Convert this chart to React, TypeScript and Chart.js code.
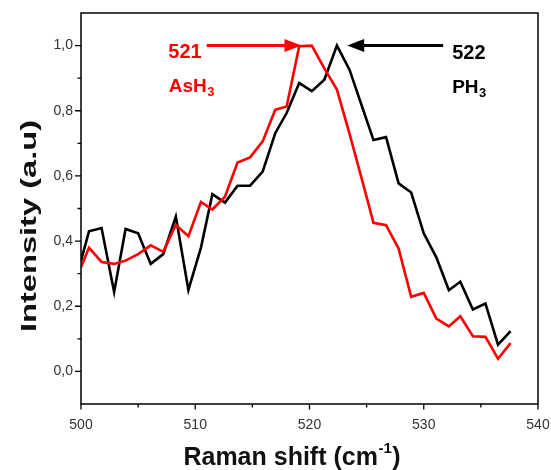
import React, { useEffect, useRef } from 'react';
import { Chart, registerables } from 'chart.js';

Chart.register(...registerables);

// Raman shift grid (cm-1)
const ramanShift = [
  500.0, 500.7, 501.8, 502.9, 503.9, 505.0, 506.1, 507.2, 508.3, 509.4,
  510.5, 511.5, 512.6, 513.7, 514.8, 515.9, 517.0, 518.0, 519.1, 520.2,
  521.3, 522.4, 523.5, 524.6, 525.6, 526.7, 527.8, 528.9, 530.0, 531.1,
  532.2, 533.2, 534.3, 535.4, 536.5, 537.6,
];

// PH3 (black)
const ph3Intensity = [
  0.34, 0.43, 0.44, 0.244, 0.437, 0.424, 0.33, 0.36, 0.475, 0.25,
  0.38, 0.544, 0.518, 0.57, 0.57, 0.613, 0.731, 0.793, 0.885, 0.86,
  0.895, 1.0, 0.926, 0.813, 0.71, 0.719, 0.577, 0.549, 0.424, 0.35,
  0.249, 0.275, 0.19, 0.208, 0.082, 0.124,
];

// AsH3 (red)
const ash3Intensity = [
  0.32, 0.38, 0.336, 0.33, 0.34, 0.36, 0.387, 0.367, 0.45, 0.415,
  0.52, 0.497, 0.536, 0.641, 0.657, 0.706, 0.803, 0.813, 0.998, 1.0,
  0.93, 0.865, 0.73, 0.588, 0.456, 0.449, 0.377, 0.229, 0.241, 0.162,
  0.138, 0.169, 0.108, 0.106, 0.039, 0.087,
];

const xMajorTicks = [500, 510, 520, 530, 540];
const xMinorTicks = [505, 515, 525, 535];
const yMajorTicks = [0, 0.2, 0.4, 0.6, 0.8, 1.0];
const yMinorTicks = [0.1, 0.3, 0.5, 0.7, 0.9];

const peakLabels = ['521', '522'];
const speciesNames = ['AsH', 'PH'];
const speciesSub = '3';
// arrows: [tail x, tip x, y]
const ash3Arrow = [511.0, 519.3, 1.0];
const ph3Arrow = [531.7, 523.3, 1.0];

const yTitle = 'Intensity (a.u)';
const xTitleMain = 'Raman shift (cm';
const xTitleSup = '-1';
const xTitleEnd = ')';

const FONT = '"Liberation Sans", Arial, sans-serif';

function drawArrow(ctx: CanvasRenderingContext2D, x1: number, x2: number, y: number, color: string) {
  const dir = x2 > x1 ? 1 : -1;
  const headLen = 17;
  const headHalf = 6.5;
  ctx.save();
  ctx.strokeStyle = color;
  ctx.fillStyle = color;
  ctx.lineWidth = 3;
  ctx.beginPath();
  ctx.moveTo(x1, y);
  ctx.lineTo(x2 - dir * headLen * 0.8, y);
  ctx.stroke();
  ctx.beginPath();
  ctx.moveTo(x2, y);
  ctx.lineTo(x2 - dir * headLen, y - headHalf);
  ctx.lineTo(x2 - dir * headLen, y + headHalf);
  ctx.closePath();
  ctx.fill();
  ctx.restore();
}

function drawSpecies(ctx: CanvasRenderingContext2D, name: string, x: number, y: number, color: string) {
  ctx.save();
  ctx.fillStyle = color;
  ctx.textAlign = 'left';
  ctx.textBaseline = 'alphabetic';
  ctx.font = `bold 19px ${FONT}`;
  ctx.fillText(name, x, y);
  const w = ctx.measureText(name).width;
  ctx.font = `bold 13px ${FONT}`;
  ctx.fillText(speciesSub, x + w + 0.5, y + 4);
  ctx.restore();
}

const decorPlugin = {
  id: 'decor',
  afterDraw(chart: any) {
    const { ctx, chartArea } = chart;
    const xs = chart.scales.x;
    const ys = chart.scales.y;
    const { left, right, top, bottom } = chartArea;
    ctx.save();
    // frame
    ctx.strokeStyle = '#000';
    ctx.lineWidth = 1.5;
    ctx.strokeRect(left, top, right - left, bottom - top);
    // ticks
    ctx.lineWidth = 1.3;
    ctx.beginPath();
    yMajorTicks.forEach((v) => {
      const p = ys.getPixelForValue(v);
      ctx.moveTo(left - 6, p);
      ctx.lineTo(left, p);
    });
    yMinorTicks.forEach((v) => {
      const p = ys.getPixelForValue(v);
      ctx.moveTo(left - 3.5, p);
      ctx.lineTo(left, p);
    });
    xMajorTicks.forEach((v) => {
      const p = xs.getPixelForValue(v);
      ctx.moveTo(p, bottom);
      ctx.lineTo(p, bottom + 5.5);
    });
    xMinorTicks.forEach((v) => {
      const p = xs.getPixelForValue(v);
      ctx.moveTo(p, bottom);
      ctx.lineTo(p, bottom + 3.5);
    });
    ctx.stroke();

    // y title
    ctx.save();
    ctx.fillStyle = '#111';
    ctx.font = `bold 22px ${FONT}`;
    ctx.translate(36, 226);
    ctx.rotate(-Math.PI / 2);
    const tw = ctx.measureText(yTitle).width;
    ctx.scale(212 / tw, 1);
    ctx.textAlign = 'center';
    ctx.textBaseline = 'alphabetic';
    ctx.fillText(yTitle, 0, 0);
    ctx.restore();

    // x title with superscript
    ctx.save();
    ctx.fillStyle = '#111';
    ctx.textBaseline = 'alphabetic';
    ctx.textAlign = 'left';
    ctx.font = `bold 25px ${FONT}`;
    const w1 = ctx.measureText(xTitleMain).width;
    const w3 = ctx.measureText(xTitleEnd).width;
    ctx.font = `bold 15px ${FONT}`;
    const w2 = ctx.measureText(xTitleSup).width;
    const total = w1 + w2 + w3 + 1;
    const startX = 292 - total / 2;
    const baseY = 465;
    ctx.font = `bold 25px ${FONT}`;
    ctx.fillText(xTitleMain, startX, baseY);
    ctx.font = `bold 15px ${FONT}`;
    ctx.fillText(xTitleSup, startX + w1 + 0.5, baseY - 12);
    ctx.font = `bold 25px ${FONT}`;
    ctx.fillText(xTitleEnd, startX + w1 + w2 + 1, baseY);
    ctx.restore();

    // annotations
    const red = '#ff0000';
    const ay = ys.getPixelForValue(ash3Arrow[2]);
    drawArrow(ctx, xs.getPixelForValue(ash3Arrow[0]), xs.getPixelForValue(ash3Arrow[1]), ay, red);
    const by = ys.getPixelForValue(ph3Arrow[2]);
    drawArrow(ctx, xs.getPixelForValue(ph3Arrow[0]), xs.getPixelForValue(ph3Arrow[1]), by, '#000');

    ctx.font = `bold 20px ${FONT}`;
    ctx.textBaseline = 'alphabetic';
    ctx.fillStyle = red;
    ctx.textAlign = 'right';
    ctx.fillText(peakLabels[0], xs.getPixelForValue(ash3Arrow[0]) - 5, ay + 12);
    ctx.fillStyle = '#000';
    ctx.textAlign = 'left';
    ctx.fillText(peakLabels[1], xs.getPixelForValue(ph3Arrow[0]) + 9, by + 13);

    drawSpecies(ctx, speciesNames[0], xs.getPixelForValue(ash3Arrow[0]) - 38, ay + 46, red);
    drawSpecies(ctx, speciesNames[1], xs.getPixelForValue(ph3Arrow[0]) + 9, by + 47, '#000');
    ctx.restore();
  },
};

export default function App() {
  const ref = useRef<HTMLCanvasElement | null>(null);
  useEffect(() => {
    if (!ref.current) return;
    const tickFont = { family: FONT, size: 14 };
    const chart = new Chart(ref.current, {
      type: 'line',
      data: {
        datasets: [
          {
            label: 'AsH3',
            data: ramanShift.map((x, i) => ({ x, y: ash3Intensity[i] })),
            borderColor: '#ff0000',
            borderWidth: 2.6,
            pointRadius: 0,
            tension: 0,
            fill: false,
          },
          {
            label: 'PH3',
            data: ramanShift.map((x, i) => ({ x, y: ph3Intensity[i] })),
            borderColor: '#000000',
            borderWidth: 2.6,
            pointRadius: 0,
            tension: 0,
            fill: false,
          },
        ],
      },
      options: {
        animation: false,
        responsive: false,
        maintainAspectRatio: false,
        devicePixelRatio: 1,
        layout: { padding: { top: 13, right: 13, left: 0, bottom: 0 } },
        plugins: { legend: { display: false }, tooltip: { enabled: false }, title: { display: false } },
        scales: {
          x: {
            type: 'linear',
            min: 500,
            max: 540,
            grid: { display: false, drawTicks: false },
            border: { display: false },
            ticks: { font: tickFont, color: '#333', padding: 13, maxRotation: 0 },
            afterBuildTicks: (s: any) => {
              s.ticks = xMajorTicks.map((v) => ({ value: v }));
            },
            afterFit: (s: any) => {
              s.height = 66;
              s.paddingLeft = 0;
              s.paddingRight = 0;
            },
          },
          y: {
            type: 'linear',
            min: -0.1,
            max: 1.1,
            grid: { display: false, drawTicks: false },
            border: { display: false },
            ticks: {
              font: tickFont,
              color: '#333',
              padding: 8,
              callback: (v: any) => Number(v).toFixed(1).replace('.', ','),
            },
            afterBuildTicks: (s: any) => {
              s.ticks = yMajorTicks.map((v) => ({ value: v }));
            },
            afterFit: (s: any) => {
              s.width = 81;
              s.paddingTop = 0;
              s.paddingBottom = 0;
            },
          },
        },
      },
      plugins: [decorPlugin],
    });
    return () => chart.destroy();
  }, []);
  return (
    <div style={{ position: 'fixed', left: 0, top: 0, width: 551, height: 470, background: '#fff' }}>
      <canvas ref={ref} width={551} height={470} style={{ display: 'block', width: 551, height: 470 }} />
    </div>
  );
}
